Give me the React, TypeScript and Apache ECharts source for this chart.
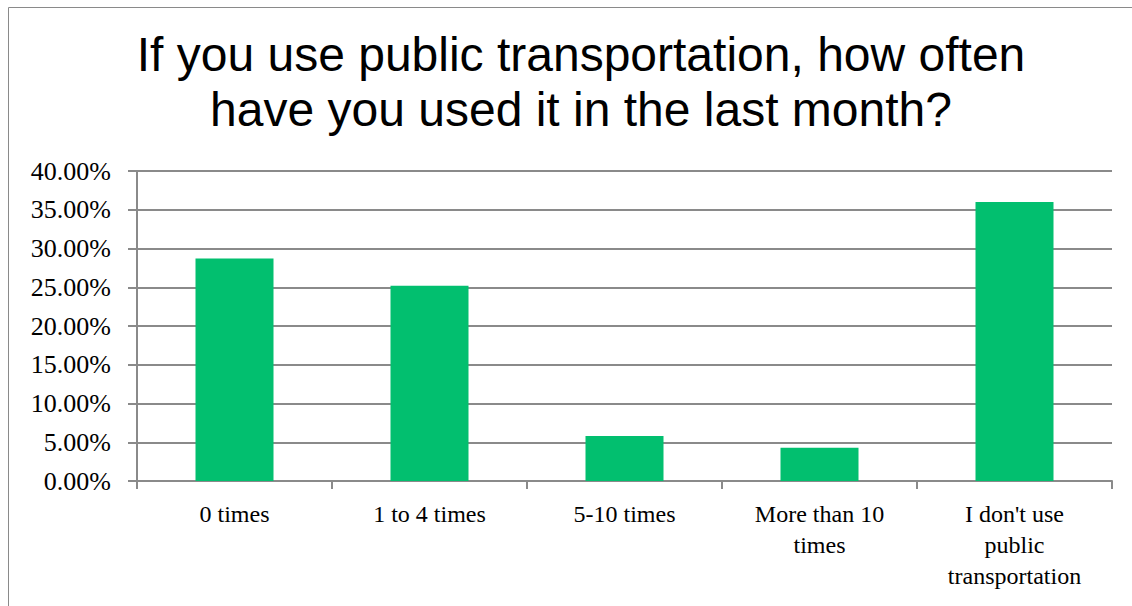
import React, { useEffect, useRef } from "react";
import * as echarts from "echarts";

const categories = [
  "0 times",
  "1 to 4 times",
  "5-10 times",
  "More than 10\ntimes",
  "I don't use\npublic\ntransportation",
];
const values = [0.287, 0.252, 0.058, 0.043, 0.36];
const titleText = "If you use public transportation, how often\nhave you used it in the last month?";

export default function App() {
  const ref = useRef<HTMLDivElement>(null);
  useEffect(() => {
    if (!ref.current) return;
    const chart = echarts.init(ref.current, null, { renderer: "svg" });
    chart.setOption({
      animation: false,
      backgroundColor: "#ffffff",
      title: {
        text: titleText,
        left: 576,
        top: 22,
        textAlign: "center",
        textStyle: {
          fontFamily: "Liberation Sans",
          fontSize: 48,
          fontWeight: "normal",
          lineHeight: 55,
          color: "#000000",
        },
      },
      graphic: [
        {
          type: "polyline",
          shape: { points: [[8.5, 606], [8.5, 7.5], [1132, 7.5]] },
          style: { stroke: "#8a8a8a", lineWidth: 1, fill: "none" },
          silent: true,
        },
      ],
      grid: { left: 137, right: 20, top: 171, bottom: 125, containLabel: false },
      xAxis: {
        type: "category",
        data: categories,
        axisLine: { show: true, lineStyle: { color: "#8a8a8a", width: 2 } },
        axisTick: { show: true, length: 8, lineStyle: { color: "#8a8a8a", width: 2 } },
        axisLabel: {
          interval: 0,
          margin: 17,
          fontFamily: "Liberation Serif",
          fontSize: 24,
          lineHeight: 31,
          color: "#000000",
          align: "center",
        },
      },
      yAxis: {
        type: "value",
        min: 0,
        max: 0.4,
        interval: 0.05,
        axisLine: { show: true, lineStyle: { color: "#8a8a8a", width: 2 } },
        axisTick: { show: true, length: 9, lineStyle: { color: "#8a8a8a", width: 2 } },
        splitLine: { show: true, lineStyle: { color: "#8a8a8a", width: 2 } },
        axisLabel: {
          margin: 26,
          fontFamily: "Liberation Serif",
          fontSize: 26,
          color: "#000000",
          formatter: (v: number) => (v * 100).toFixed(2) + "%",
        },
      },
      series: [
        {
          type: "bar",
          data: values,
          barCategoryGap: "60%",
          itemStyle: { color: "#02bf6f" },
        },
      ],
    });
    return () => chart.dispose();
  }, []);
  return (
    <div
      ref={ref}
      style={{ position: "fixed", left: 0, top: 0, width: 1132, height: 606 }}
    />
  );
}
